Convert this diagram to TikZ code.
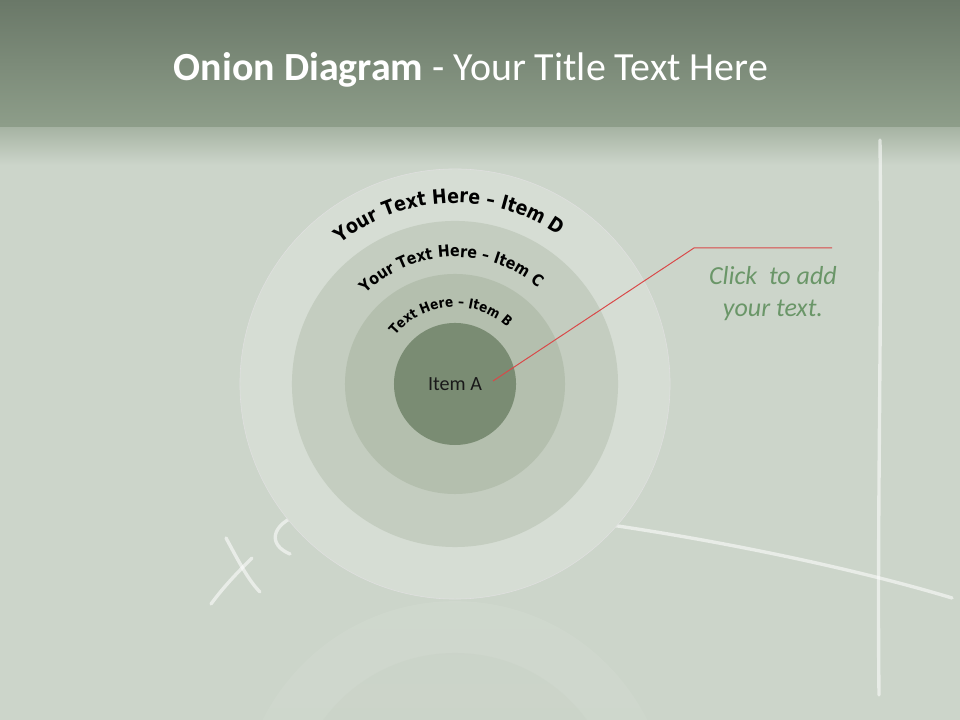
\documentclass[tikz,border=0pt]{standalone}
\usepackage{fontspec}
\setmainfont{Carlito}
\newfontfamily\ringfont[FakeStretch=0.88]{DejaVu Sans}
\usetikzlibrary{decorations.text,fadings}

\definecolor{boardbg}{RGB}{204,213,202}
\definecolor{bandtop}{RGB}{106,120,104}
\definecolor{bandbot}{RGB}{142,158,138}
\definecolor{ringD}{RGB}{214,221,212}
\definecolor{ringC}{RGB}{196,205,192}
\definecolor{ringB}{RGB}{180,191,174}
\definecolor{ringA}{RGB}{122,140,115}
\definecolor{clickgreen}{RGB}{106,150,104}
\definecolor{pinred}{RGB}{217,72,72}

\begin{document}
\begin{tikzpicture}[
    x=0.025cm, y=0.025cm,
    ring/.style={circle, inner sep=0pt, outer sep=0pt},
    chalk/.style={white, opacity=0.55, line width=2.4pt, line cap=round},
    ringlabel/.style={decorate, decoration={text along path, text align=center, text={#1}}}
]
\useasboundingbox (0,0) rectangle (960,720);
\clip (0,0) rectangle (960,720);

% board and title band
\fill[boardbg] (0,0) rectangle (960,720);
\shade[top color=bandtop, bottom color=bandbot] (0,592) rectangle (960,720);
\shade[top color=bandbot!60!boardbg, bottom color=boardbg] (0,555) rectangle (960,592);

% chalk marks
\draw[chalk] (880,580) .. controls (882,400) and (877,200) .. (879,25);
\draw[chalk] (590,198) .. controls (720,180) and (860,150) .. (952,122);
\draw[chalk] (226,182) .. controls (238,160) and (248,140) .. (260,128);
\draw[chalk] (211,116) .. controls (225,135) and (240,150) .. (252,162);
\draw[chalk] (300,206) .. controls (270,195) and (268,175) .. (290,166);

% reflection
\fill[ringD, opacity=0.4, path fading=south] (455,-96) circle (215);
\fill[ringC, opacity=0.3, path fading=south] (455,-96) circle (163);

% onion rings
\coordinate (ctr) at (455,336);
\node[ring, fill=ringD, draw=black!12, minimum size=10.75cm] (itemD) at (ctr) {};
\node[ring, fill=ringC, minimum size=8.15cm] (itemC) at (ctr) {};
\node[ring, fill=ringB, minimum size=5.5cm] (itemB) at (ctr) {};
\node[ring, fill=ringA, minimum size=3.05cm, font=\fontsize{14.3}{16}\selectfont, text=black!90] (itemA) at (ctr) {Item A};

% curved labels
\path[ringlabel={|\ringfont\bfseries\fontsize{14.1}{16}\selectfont|Your Text Here – Item D}] (ctr) ++(172:181) arc (172:12:181);
\path[ringlabel={|\ringfont\bfseries\fontsize{11.5}{13}\selectfont|Your Text Here – Item C}] (ctr) ++(172:127) arc (172:12:127);
\path[ringlabel={|\ringfont\bfseries\fontsize{9.8}{11}\selectfont|Text Here – Item B}] (ctr) ++(174:77) arc (174:14:77);

% callout
\coordinate (pinA) at (493,339);
\coordinate (bend) at (694,472);
\coordinate (tail) at (832,472);
\draw[pinred, line width=0.7pt] (pinA) -- (bend) -- (tail);
\node[align=center, anchor=base, text=clickgreen, font=\itshape\fontsize{18.5}{22.8}\selectfont] (note) at (773,403) {Click~~to add\\your text.};

% title
\node[anchor=base, text=white, font=\fontsize{28.4}{33}\selectfont] (title) at (471,639) {\textbf{Onion Diagram} - Your Title Text Here};

\end{tikzpicture}
\end{document}
